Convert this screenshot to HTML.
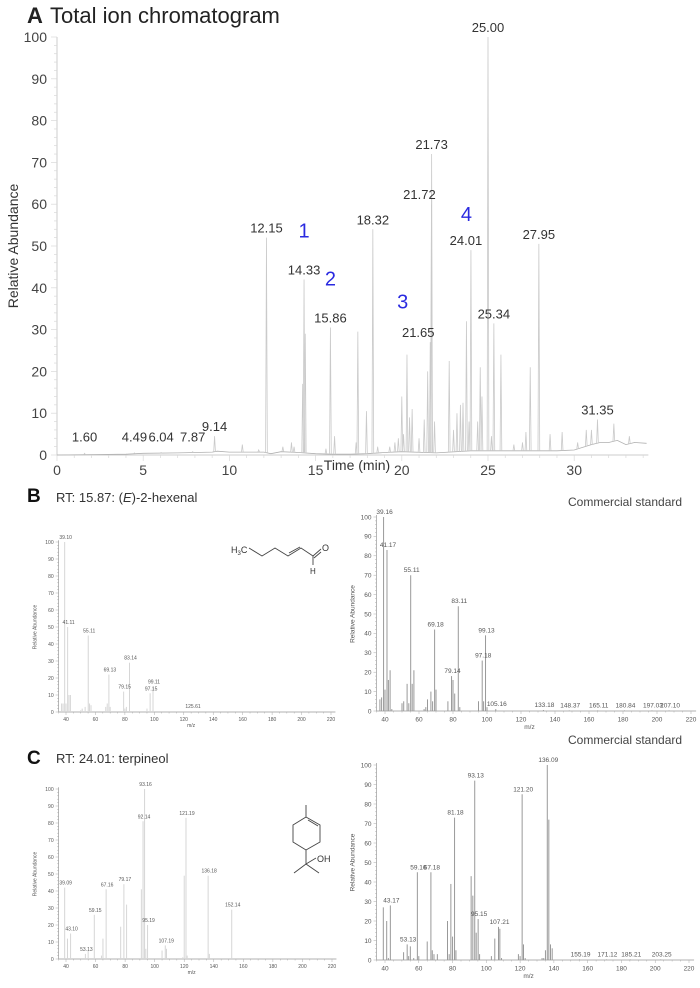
<!DOCTYPE html>
<html><head><meta charset="utf-8"><style>
body{margin:0;background:#fff;font-family:"Liberation Sans",sans-serif}
svg text{font-family:"Liberation Sans",sans-serif}
</style></head><body>
<svg id="fig" width="700" height="983" viewBox="0 0 700 983" xmlns="http://www.w3.org/2000/svg">
<text x="27" y="23" font-size="22" font-weight="bold" fill="#222">A</text>
<text x="50" y="23" font-size="22" fill="#222">Total ion chromatogram</text>
<text x="27" y="502" font-size="19" font-weight="bold" fill="#111">B</text>
<text x="56" y="502" font-size="13" fill="#333">RT: 15.87: (<tspan font-style="italic">E</tspan>)-2-hexenal</text>
<text x="568" y="506" font-size="12" fill="#444">Commercial standard</text>
<text x="27" y="764" font-size="19" font-weight="bold" fill="#111">C</text>
<text x="56" y="763" font-size="13" fill="#333">RT: 24.01: terpineol</text>
<text x="568" y="744" font-size="12" fill="#444">Commercial standard</text>
<g stroke="#444" stroke-width="0.9" fill="none">
<path d="M249 548 L262 556 L275 548 L288 556 L301 548 L313 556"/><path d="M289 553 L300 547"/>
<path d="M313 556 L321 549"/><path d="M314 558 L321 552"/><path d="M313 556 L313 565"/>
</g>
<text x="231" y="553" font-size="9" fill="#333">H<tspan font-size="6" dy="2">3</tspan><tspan dy="-2">C</tspan></text>
<text x="322" y="551" font-size="9" fill="#333">O</text>
<text x="310" y="574" font-size="8" fill="#333">H</text>
<g stroke="#444" stroke-width="0.9" fill="none">
<path d="M306 805 L306 817 L320 825 L320 842 L306 850 L293 842 L293 825 L306 817"/><path d="M308 820 L318 826"/>
<path d="M306 850 L306 864 L294 873"/><path d="M306 864 L319 873"/><path d="M306 864 L316 858"/>
</g>
<text x="317" y="862" font-size="9" fill="#333">OH</text>
<g id="layer"></g>
</svg>
<script>
// ---------- Panel A data ----------
const ticTimes = [1.60,4.49,6.04,7.87,9.14,10.75,11.7,12.15,13.1,13.6,13.75,14.25,14.33,14.4,15.6,15.86,16.1,17.35,17.45,17.95,18.32,18.6,19.3,19.6,19.8,20.0,20.1,20.3,20.45,20.6,21.0,21.3,21.5,21.65,21.72,21.73,21.9,22.75,23.0,23.2,23.4,23.55,23.75,23.9,24.01,24.4,24.55,24.65,25.00,25.2,25.34,25.75,26.5,27.0,27.2,27.45,27.95,28.6,29.3,30.2,30.7,31.0,31.35,32.3,33.2];
const ticAbund = [0.4,0.5,0.6,0.8,4.5,2.5,1.2,52,2,3,2,17,42,29,1.5,30.5,4.5,3,29.5,10.5,54,2,2,3,4,14,5,24,9,11,4,8.5,20,27,60,72,8,22.5,6,10,12,12.5,32,8,49,8,21,14,100,4.5,31.5,24,2.5,3,5.5,21,50.5,5,5.5,3,6,6,8.5,7.5,4.5];
const ticLabels = ["1.60","4.49","6.04","7.87","9.14","12.15","14.33","15.86","18.32","21.65","21.72","21.73","24.01","25.00","25.34","27.95","31.35"];
const ticLabelTop = [2,2,2,2,4.5,52,42,30.5,54,27,60,72,49,100,31.5,50.5,8.5];
const blueMarks = ["1","2","3","4"];
const blueTimes = [14.33,15.86,20.05,23.75];
const blueLevels = [52,40.5,35,56];
const baseT = [0,2,4,5,7,9,9.3,10,12,12.4,13,14,15,16,17,18,19,20,22,24,26,28,29,30,31,31.5,32,32.5,33,33.5,34.2];
const baseV = [0,0.1,0.2,0.4,0.5,0.7,0.9,0.7,0.7,0.3,0.8,0.6,0.3,0.2,0.2,0.3,0.6,0.8,0.5,1,1,1,1,1.2,2.5,3,3,3.5,2.5,3,2.8];
const xTicksA = [0,5,10,15,20,25,30];
const yTicksA = [0,10,20,30,40,50,60,70,80,90,100];

// ---------- Mass spectra data ----------
const bL_mz = [37,38,39.10,40,41.11,42,43,50,51,53,55.11,56,57,67,68,69.13,70,79.15,80,81,83.14,95,97.15,99.11,125.61];
const bL_ab = [5,5,100,5,50,10,10,1,2,3,45,5,4,3,5,22,3,12,2,3,29,2,11,15,0.5];
const bL_lab = ["39.10","41.11","55.11","69.13","79.15","83.14","97.15","99.11","125.61"];
const bR_mz = [37,38,39.16,40,41.17,42,43,44,50,51,53,54,55.11,56,57,63,64,65,67,68,69.18,70,77,79.14,80,81,83.11,84,95,97.18,98,99.13,100,105.16,133.18,148.37,165.11,180.84,197.03,207.10];
const bR_ab = [6,7,100,11,83,16,21,1,4,5,14,4,70,14,21,1,2,6,10,5,42,11,5,18,16,9,54,2,5,26,5,39,2,1,0.5,0.3,0.3,0.3,0.3,0.3];
const bR_lab = ["39.16","41.17","55.11","69.18","79.14","83.11","97.18","99.13","105.16","133.18","148.37","165.11","180.84","197.03","207.10"];
const cL_mz = [39.09,41,43.10,53.13,55,59.15,64,65,67.16,77,79.17,81,91,92.14,93.16,94,95.19,105,107.19,108,119,120,121.19,122,136.18,137,152.14];
const cL_ab = [42,12,15,3,5,26,2,12,41,19,44,32,41,81,100,6,20,5,8,6,1,49,83,2,49,3,29];
const cL_lab = ["39.09","43.10","53.13","59.15","67.16","79.17","92.14","93.16","95.19","107.19","121.19","136.18","152.14"];
const cR_mz = [39,41,42,43.17,51,53.13,54,55,57,59.16,60,65,67.18,68,69,71,77,78,79,80,81.18,82,91,92,93.13,94,95.15,96,103,105,107.21,108,109,119,120,121.20,122,123,133,134,135,136.09,137,138,139,155.19,171.12,185.21,203.25];
const cR_ab = [27,20,1,28,4,8,2,7,1,45,2,9.5,45,5,3,3,20,3,39,12,73,5,43,33,92,14,21,3,2,11,17,16,1,3,2,85,8,1,1,1,5,100,72,8,6,0.3,0.3,0.3,0.3];
const cR_lab = ["43.17","53.13","59.16","67.18","81.18","93.13","95.15","107.21","121.20","136.09","155.19","171.12","185.21","203.25"];
const mzTicks = [40,60,80,100,120,140,160,180,200,220];
const abTicks = [0,10,20,30,40,50,60,70,80,90,100];

const NS = "http://www.w3.org/2000/svg";
const layer = document.getElementById('layer');
function mk(tag, attrs, parent){const e=document.createElementNS(NS,tag);for(const k in attrs)e.setAttribute(k,attrs[k]);(parent||layer).appendChild(e);return e;}

// ---------- Panel A ----------
const gA = mk('g',{});


const xA = t => 57 + 17.24*t;
const yA = v => 455 - 4.18*v;
const axA = mk('path',{d:`M${xA(0)} ${yA(100)} L${xA(0)} ${yA(0)} L${xA(34.3)} ${yA(0)}`,stroke:'#ccc','stroke-width':1,fill:'none'},gA);


for(let v=0;v<=100;v+=2){mk('line',{x1:xA(0)-(v%10?3:6),x2:xA(0),y1:yA(v),y2:yA(v),stroke:'#d8d8d8','stroke-width':0.7},gA);}
for(let t=0;t<=34;t+=1){mk('line',{x1:xA(t),x2:xA(t),y1:yA(0),y2:yA(0)+(t%5?3:6),stroke:'#d8d8d8','stroke-width':0.7},gA);}
yTicksA.forEach(v=>{const e=mk('text',{x:xA(0)-10,y:yA(v)+5,'font-size':14,'text-anchor':'end',fill:'#444'},gA);e.textContent=v;

});
xTicksA.forEach(t=>{const e=mk('text',{x:xA(t),y:yA(0)+20,'font-size':14,'text-anchor':'middle',fill:'#444'},gA);e.textContent=t;

});
const xt=mk('text',{x:xA(17.4),y:470,'font-size':14,'text-anchor':'middle',fill:'#333'},gA);xt.textContent='Time (min)';


const yt=mk('text',{x:0,y:0,'font-size':14,'text-anchor':'middle',fill:'#333',transform:`translate(18,${yA(50)}) rotate(-90)`},gA);yt.textContent='Relative Abundance';


function baseAt(t){for(let i=1;i<baseT.length;i++){if(t<=baseT[i]){const f=(t-baseT[i-1])/(baseT[i]-baseT[i-1]);return baseV[i-1]+f*(baseV[i]-baseV[i-1]);}}return baseV[baseV.length-1];}
let d='M'+xA(0)+' '+yA(0);
baseT.forEach((t,i)=>{d+=` L${xA(t).toFixed(1)} ${yA(baseV[i]).toFixed(1)}`;});
const bl=mk('path',{d:d,stroke:'#b0b0b0','stroke-width':0.8,fill:'none'},gA);


ticTimes.forEach((t,i)=>{const b=baseAt(t);const p=mk('path',{d:`M${xA(t-0.05)} ${yA(b)} L${xA(t)} ${yA(ticAbund[i])} L${xA(t+0.05)} ${yA(b)}`,stroke:'#cacaca','stroke-width':0.8,fill:'none'},gA);

});
ticLabels.forEach((s,i)=>{const t=parseFloat(s);let dx=0;if(s==='21.72'||s==='21.65')dx=-12;if(s==='24.01')dx=-5;
const e=mk('text',{x:xA(t)+dx,y:yA(ticLabelTop[i])-5,'font-size':13,'text-anchor':'middle',fill:'#333'},gA);e.textContent=s;

});
blueMarks.forEach((s,i)=>{const e=mk('text',{x:xA(blueTimes[i]),y:yA(blueLevels[i]),'font-size':20,'text-anchor':'middle',fill:'#2a2ae0'},gA);e.textContent=s;

});

// ---------- Spectra ----------
function spectrum(name, mzArr, abArr, labs, x40, x220, y0, y100, col, fs, tickFs){
  const g=mk('g',{});
  
  
  const sx=(x220-x40)/180;
  const X=m=>x40+(m-40)*sx, Y=v=>y0-(y0-y100)*v/100;
  const ax=mk('path',{d:`M${X(35)} ${Y(101)} L${X(35)} ${Y(0)} L${X(223)} ${Y(0)}`,stroke:'#999','stroke-width':0.7,fill:'none'},g);
  
  
  for(let v=0;v<=100;v+=2)mk('line',{x1:X(35)-(v%10?1.5:3),x2:X(35),y1:Y(v),y2:Y(v),stroke:'#aaa','stroke-width':0.5},g);
  for(let m=35;m<=220;m+=5)mk('line',{x1:X(m),x2:X(m),y1:Y(0),y2:Y(0)+(m%20?1.5:3),stroke:'#aaa','stroke-width':0.5},g);
  abTicks.forEach(v=>{const e=mk('text',{x:X(35)-5,y:Y(v)+tickFs*0.35,'font-size':tickFs,'text-anchor':'end',fill:'#555'},g);e.textContent=v;
  
  });
  mzTicks.forEach(m=>{const e=mk('text',{x:X(m),y:Y(0)+tickFs+4,'font-size':tickFs,'text-anchor':'middle',fill:'#555'},g);e.textContent=m;
  
  });
  const xl=mk('text',{x:X(125),y:Y(0)+2*tickFs+5,'font-size':tickFs,'text-anchor':'middle',fill:'#555'},g);xl.textContent='m/z';
  
  
  const yl=mk('text',{x:0,y:0,'font-size':tickFs,'text-anchor':'middle',fill:'#555',transform:`translate(${X(35)-22},${Y(50)}) rotate(-90)`},g);yl.textContent='Relative Abundance';
  
  
  mzArr.forEach((m,i)=>{const l=mk('line',{x1:X(m),x2:X(m),y1:Y(0),y2:Y(abArr[i]),stroke:col,'stroke-width':1},g);
  
  });
  labs.forEach(s=>{const m=parseFloat(s);const i=mzArr.indexOf(m);const v=i>=0?abArr[i]:0;
  const e=mk('text',{x:X(m)+1,y:Y(v)-3,'font-size':fs,'text-anchor':'middle',fill:'#555'},g);e.textContent=s;
  
  });
}
spectrum('spectrum-b-sample',bL_mz,bL_ab,bL_lab,66,331,712,542,'#d6d6d6',5,5);
spectrum('spectrum-b-standard',bR_mz,bR_ab,bR_lab,385,691,711,517,'#999',6.5,6.5);
spectrum('spectrum-c-sample',cL_mz,cL_ab,cL_lab,66,332,959,789,'#d6d6d6',5,5);
spectrum('spectrum-c-standard',cR_mz,cR_ab,cR_lab,385,689,960,765,'#999',6.5,6.5);
</script>
</body></html>
